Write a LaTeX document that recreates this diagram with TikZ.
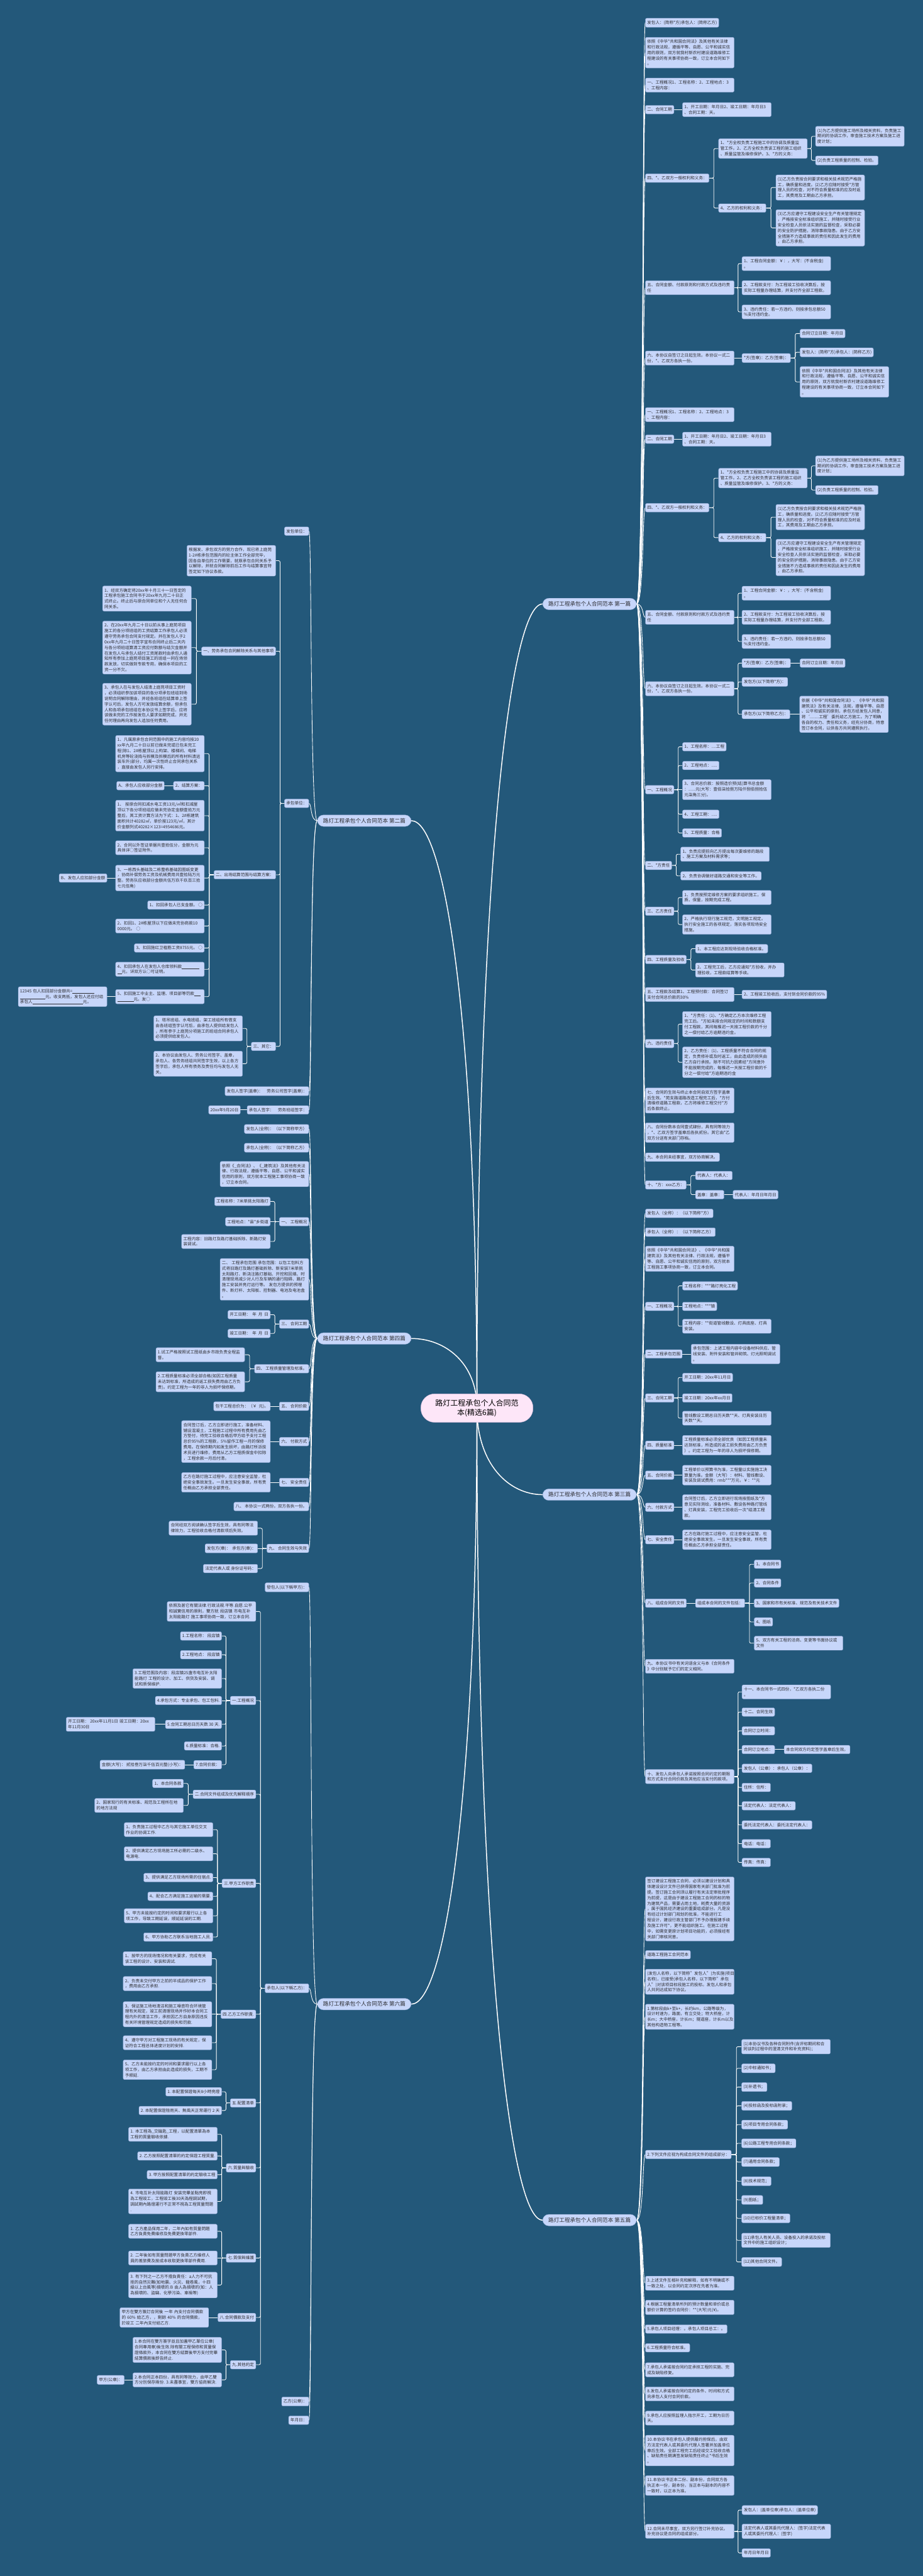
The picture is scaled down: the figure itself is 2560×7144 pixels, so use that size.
\documentclass[tikz,border=0pt]{standalone}
\usepackage{fontspec}
\setmainfont{Noto Sans CJK SC}
\usetikzlibrary{calc}
\definecolor{bgc}{RGB}{35,88,122}
\definecolor{boxfill}{RGB}{199,214,250}
\definecolor{boxline}{RGB}{150,172,215}
\definecolor{txt}{RGB}{45,45,50}
\definecolor{rootfill}{RGB}{253,230,248}
\definecolor{rootline}{RGB}{225,195,225}
\pgfdeclarelayer{back}\pgfdeclarelayer{edges}\pgfsetlayers{back,edges,main}
\newcommand\blnk[1]{\rule[-1.5pt]{#1pt}{0.6pt}}
\tikzset{
 box/.style={draw=boxline,line width=0.7pt,fill=boxfill,rounded corners=4pt,inner xsep=5pt,inner ysep=6.5pt,font=\fontsize{11.5pt}{15.4pt}\selectfont,text=txt,align=left},
 wbox/.style={box,text width=236pt},
 tree/.style={draw=white,line width=1.5pt},
 trunk/.style={draw=white,line width=2.6pt},
 branch/.style={fill=boxfill,draw=boxline,line width=0.7pt,rounded corners=17pt,inner xsep=16pt,inner ysep=9pt,font=\fontsize{15pt}{18pt}\selectfont,text=txt},
 root/.style={fill=rootfill,draw=rootline,line width=0.8pt,rounded corners=38pt,inner xsep=40pt,inner ysep=15pt,font=\fontsize{21pt}{27pt}\selectfont,align=center,text=black}
}
\newcommand\NdR[4]{\node[box,anchor=west] (#1) at (#2,#3) {#4};}
\newcommand\WdR[4]{\node[wbox,anchor=west] (#1) at (#2,#3) {#4};}
\newcommand\NdL[4]{\node[box,anchor=east] (#1) at (#2,#3) {#4};}
\newcommand\WdL[4]{\node[wbox,anchor=east] (#1) at (#2,#3) {#4};}
\newcommand\CvR[2]{\draw[tree] (#1.east) .. controls +(20,0) and +(-8,0) .. (#2.west);}
\newcommand\CvL[2]{\draw[tree] (#1.west) .. controls +(-20,0) and +(8,0) .. (#2.east);}
\newcommand\ElR[2]{\draw[tree,rounded corners=4pt] (#1.east) -- ($(#1.east)!0.5!(#1.east -| #2.west)$) |- (#2.west);}
\newcommand\ElL[2]{\draw[tree,rounded corners=4pt] (#1.west) -- ($(#1.west)!0.5!(#1.west -| #2.east)$) |- (#2.east);}
\newcommand\StR[2]{\draw[tree] (#1.east) -- (#2.west);}
\newcommand\StL[2]{\draw[tree] (#1.west) -- (#2.east);}
\begin{document}
\begin{tikzpicture}[x=1pt,y=-1pt]
\useasboundingbox (0,0) rectangle (2560,7144);
\begin{pgfonlayer}{back}\fill[bgc] (0,0) rectangle (2560,7144);\end{pgfonlayer}

\node[root] (C) at (1323,3905) {路灯工程承包个人合同范\\本(精选6篇)};
\node[branch,anchor=east] (B1) at (1766,1675) {路灯工程承包个人合同范本 第一篇};
\node[branch,anchor=east] (B3) at (1766,4145) {路灯工程承包个人合同范本 第三篇};
\node[branch,anchor=east] (B5) at (1766,6157) {路灯工程承包个人合同范本 第五篇};
\node[branch,anchor=west] (B2) at (880,2276) {路灯工程承包个人合同范本 第二篇};
\node[branch,anchor=west] (B4) at (880,3712) {路灯工程承包个人合同范本 第四篇};
\node[branch,anchor=west] (B6) at (880,5558) {路灯工程承包个人合同范本 第六篇};

% ---------- Branch 1 ----------
\NdR{r1}{1790}{63}{发包人：(简称*方)承包人：(简称乙方)}
\WdR{r2}{1790}{146}{依照《中华*共和国合同法》及其他有关法律\\和行政法规，遵循平等、自愿、公平和诚实信\\用的原则，双方就我村新农村建设道路维修工\\程建设的有关事项协商一致，订立本合同如下\\。}
\WdR{r3}{1790}{236}{一、工程概况1、工程名称：2、工程地点：3\\、工程内容：}
\NdR{r4}{1790}{304}{二、合同工期}
\WdR{r4a}{1893}{304}{1、开工日期：年月日2、竣工日期：年月日3\\、合同工期：天。}
\NdR{r5}{1790}{494}{四、*、乙双方一般权利和义务：}
\WdR{r5a}{1993}{412}{1、*方全权负责工程施工中的协调及质量监\\管工作。2、乙方全权负责该工程的施工组织\\、质量监管及维修保护。3、*方的义务：}
\WdR{r5a1}{2262}{378}{(1)为乙方提供施工场所及相关资料，负责施工\\期间的协调工作，审查施工技术方案及施工进\\度计划；}
\NdR{r5a2}{2262}{445}{(2)负责工程质量的控制、检验。}
\NdR{r5b}{1993}{577}{4、乙方的权利和义务：}
\WdR{r5b1}{2152}{520}{(1)乙方负责按合同要求和相关技术规范严格施\\工，确质量和进度。(2)乙方应随时接受*方管\\理人员的检查，对不符合质量标准的应及时返\\工，其费用及工期由乙方承担。}
\WdR{r5b2}{2152}{632}{(3)乙方应遵守工程建设安全生产有关管理规定\\，严格按安全标准组织施工，并随时接受行业\\安全检查人员依法实施的监督检查，采取必要\\的安全防护措施，消除事故隐患。由于乙方安\\全措施不力造成事故的责任和因此发生的费用\\，由乙方承担。}
\WdR{r6}{1790}{798}{五、合同金额、付款原则和付款方式及违约责\\任}
\WdR{r6a}{2058}{731}{1、工程合同金额：￥：，大写：(不含税金)\\。}
\WdR{r6b}{2058}{798}{2、工程款支付：为工程竣工验收决算后，按\\实际工程量办理结算，并支付齐全部工程款。}
\WdR{r6c}{2058}{865}{3、违约责任：若一方违约，则按承包总额50\\\%支付违约金。}
\WdR{r7}{1790}{993}{六、本协议自签订之日起生效。本协议一式二\\份，*、乙双方各执一份。}
\NdR{r7a}{2058}{993}{*方(签章)：乙方(签章)：}
\NdR{r7a1}{2219}{925}{合同订立日期：年月日}
\NdR{r7a2}{2219}{977}{发包人：(简称*方)承包人：(简称乙方)}
\WdR{r7a3}{2219}{1059}{依照《中华*共和国合同法》及其他有关法律\\和行政法规，遵循平等、自愿、公平和诚实信\\用的原则，双方就我村新农村建设道路维修工\\程建设的有关事项协商一致，订立本合同如下\\。}
\WdR{r8}{1790}{1150}{一、工程概况1、工程名称：2、工程地点：3\\、工程内容：}
\NdR{r9}{1790}{1218}{二、合同工期}
\WdR{r9a}{1893}{1218}{1、开工日期：年月日2、竣工日期：年月日3\\、合同工期：天。}
\NdR{r10}{1790}{1408}{四、*、乙双方一般权利和义务：}
\WdR{r10a}{1993}{1326}{1、*方全权负责工程施工中的协调及质量监\\管工作。2、乙方全权负责该工程的施工组织\\、质量监管及维修保护。3、*方的义务：}
\WdR{r10a1}{2262}{1292}{(1)为乙方提供施工场所及相关资料，负责施工\\期间的协调工作，审查施工技术方案及施工进\\度计划；}
\NdR{r10a2}{2262}{1359}{(2)负责工程质量的控制、检验。}
\NdR{r10b}{1993}{1491}{4、乙方的权利和义务：}
\WdR{r10b1}{2152}{1434}{(1)乙方负责按合同要求和相关技术规范严格施\\工，确质量和进度。(2)乙方应随时接受*方管\\理人员的检查，对不符合质量标准的应及时返\\工，其费用及工期由乙方承担。}
\WdR{r10b2}{2152}{1546}{(3)乙方应遵守工程建设安全生产有关管理规定\\，严格按安全标准组织施工，并随时接受行业\\安全检查人员依法实施的监督检查，采取必要\\的安全防护措施，消除事故隐患。由于乙方安\\全措施不力造成事故的责任和因此发生的费用\\，由乙方承担。}
\WdR{r11}{1790}{1712}{五、合同金额、付款原则和付款方式及违约责\\任}
\WdR{r11a}{2058}{1645}{1、工程合同金额：￥：，大写：(不含税金)\\。}
\WdR{r11b}{2058}{1712}{2、工程款支付：为工程竣工验收决算后，按\\实际工程量办理结算，并支付齐全部工程款。}
\WdR{r11c}{2058}{1779}{3、违约责任：若一方违约，则按承包总额50\\\%支付违约金。}
\WdR{r12}{1790}{1910}{六、本协议自签订之日起生效。本协议一式二\\份，*、乙双方各执一份。}
\NdR{r12a}{2058}{1839}{*方(签章)：乙方(签章)：}
\NdR{r12a1}{2219}{1839}{合同订立日期：年月日}
\NdR{r12b}{2058}{1891}{发包方(以下简称*方)：}
\NdR{r12c}{2058}{1981}{承包方(以下简称乙方)：}
\WdR{r12c1}{2218}{1981}{依据《中华*共和国合同法》、《中华*共和国\\建筑法》及有关法律、法规，遵循平等、自愿\\、公平和诚实的原则，承包方经发包人同意，\\将‘........工程’委托给乙方施工。为了明确\\各自的权力、责任和义务，经充分协商，特意\\签订本合同，以供各方共同遵照执行。}
\NdR{r13}{1790}{2190}{一、工程概况}
\NdR{r13a}{1893}{2071}{1、工程名称：....工程}
\NdR{r13b}{1893}{2123}{2、工程地点：.....}
\WdR{r13c}{1893}{2190}{3、合同总价款：按照造价预(结)算书总金额\\：......元(大写：壹佰柒拾捌万陆仟捌佰捌拾伍\\元柒角三分)。}
\NdR{r13d}{1893}{2258}{4、工程工期：.....}
\NdR{r13e}{1893}{2310}{5、工程质量：合格}
\NdR{r14}{1790}{2400}{二、*方责任}
\WdR{r14a}{1888}{2369}{1、负责应提前向乙方提出每次要维修的路段\\、施工方案及材料需求等；}
\NdR{r14b}{1888}{2429}{2、负责协调做好道路交通和安全等工作。}
\NdR{r15}{1790}{2527}{三、乙方责任}
\WdR{r15a}{1893}{2489}{1、负责按预定维修方案的要求组织施工，保\\质、保量，按期完成工程。}
\WdR{r15b}{1893}{2564}{2、严格执行现行施工规范，文明施工规定。\\执行安全施工的各项规定，落实各项现场安全\\措施。}
\NdR{r16}{1790}{2661}{四、工程质量及验收}
\NdR{r16a}{1929}{2631}{1、本工程应达到现场验收合格标准。}
\WdR{r16b}{1929}{2690}{2、工程完工后，乙方应通知*方验收，并办\\理验收，工程款结算等手续。}
\WdR{r17}{1790}{2758}{五、工程款及结算1、工程预付款：合同签订\\支付合同总价款的30\%}
\NdR{r17a}{2058}{2758}{2、工程竣工验收后，支付到合同价款的95\%}
\NdR{r18}{1790}{2894}{六、违约责任}
\WdR{r18a}{1893}{2840}{1、*方责任：(1)、*方确定乙方本次维修工程\\完工后。*方如未按合同规定的时间和数额支\\付工程款，其间每推迟一天按工程价款的千分\\之一偿付给乙方逾期违约金。}
\WdR{r18b}{1893}{2946}{2、乙方责任：(1)、工程质量不符合合同的规\\定，负责修补或及时返工，由此造成的损失由\\乙方自行承担。除不可抗力因素经*方同意外\\不能按期完成的，每推迟一天按工程价款的千\\分之一偿付给*方逾期违约金}
\WdR{r19}{1790}{3052}{七、合同的生效与终止本合同自双方签字盖章\\后生效。*苑支路道路改造工程完工后，*方付\\清维修道路工程款，乙方将维修工程交付*方\\后条款终止。}
\WdR{r20}{1790}{3141}{八、合同份数本合同壹式肆份，具有同等效力\\，*、乙双方签字盖章后各执贰份。其它由*乙\\双方分送有关部门存档。}
\NdR{r21}{1790}{3209}{九、本合同未经事宜，双方协商解决。}
\NdR{r22}{1790}{3286}{十、*方：xxx乙方：}
\NdR{r22a}{1929}{3260}{代表人：代表人：}
\NdR{r22b}{1929}{3313}{盖章：盖章：}
\NdR{r22b1}{2033}{3313}{代表人：年月日年月日}

% ---------- Branch 3 ----------
\NdR{s1}{1790}{3365}{发包人（全称）：（以下简称*方）}
\NdR{s2}{1790}{3417}{承包人（全称）：（以下简称乙方）}
\WdR{s3}{1790}{3491}{依照《中华*共和国合同法》、《中华*共和国\\建筑法》及其他有关法律、行政法规，遵循平\\等、自愿、公平和诚实信用的原则，双方就本\\工程施工事项协商一致，订立本合同。}
\NdR{s4}{1790}{3623}{一、工程概况}
\NdR{s4a}{1893}{3566}{工程名称：***路灯亮化工程}
\NdR{s4b}{1893}{3623}{工程地点：***镇}
\WdR{s4c}{1893}{3678}{工程内容：**街道管线敷设、灯具底座、灯具\\安装。}
\NdR{s5}{1790}{3755}{二、工程承包范围}
\WdR{s5a}{1917}{3755}{承包范围：上述工程内容中设备材料供应、管\\线安装、附件安装和管井砌筑、灯光照明调试\\。}
\NdR{s6}{1790}{3877}{三、合同工期}
\NdR{s6a}{1893}{3820}{开工日期：20xx年11月日}
\NdR{s6b}{1893}{3877}{竣工日期：20xx年xx月日}
\WdR{s6c}{1893}{3933}{管线敷设工期总日历天数**天、灯具安装日历\\天数**天。}
\NdR{s7}{1790}{4008}{四、质量标准}
\WdR{s7a}{1893}{4008}{工程质量标准必须全部优良（如因工程质量未\\达到标准，所造成的返工损失费用由乙方负责\\）。约定工程为一年的非人为损坏保修期。}
\NdR{s8}{1790}{4091}{五、合同价款}
\WdR{s8a}{1893}{4091}{工程单价以预算书为准，工程量以实施施工决\\算量为准。金额（大写）：材料、管线敷设、\\安装及调试费用：rmb***万元，￥：**元}
\NdR{s9}{1790}{4180}{六、付款方式}
\WdR{s9a}{1893}{4180}{合同签订后，乙方立即进行现场按图纸及*方\\意见实际测绘，准备材料、敷设各种路灯管线\\、灯具安装，工程完工验收后一次*结清工程\\款。}
\NdR{s10}{1790}{4270}{七、安全责任}
\WdR{s10a}{1893}{4270}{乙方在路灯施工过程中，应注意安全监管，杜\\绝安全事故发生。一旦发生安全事故，所有责\\任概由乙方承担全部责任。}
\NdR{s11}{1790}{4446}{八、组成合同的文件}
\NdR{s11a}{1929}{4446}{组成本合同的文件包括：}
\NdR{s11a1}{2092}{4338}{1、本合同书}
\NdR{s11a2}{2092}{4390}{2、合同条件}
\NdR{s11a3}{2092}{4446}{3、国家和市有关标准、规范及有关技术文件}
\NdR{s11a4}{2092}{4498}{4、图纸}
\WdR{s11a5}{2092}{4557}{5、双方有关工程的洽商、变更等书面协议或\\文件}
\WdR{s12}{1790}{4621}{九、本协议书中有关词语含义与本《合同条件\\》中分别赋予它们的定义相同。}
\WdR{s13}{1790}{4927}{十、发包人向承包人承诺按照合同约定的期限\\和方式支付合同价款及其他应当支付的款项。}
\WdR{s13a}{2058}{4692}{十一、本合同书一式四份，*乙双方各执二份\\。}
\NdR{s13b}{2058}{4748}{十二、合同生效}
\NdR{s13c}{2058}{4800}{合同订立时间：}
\NdR{s13d}{2058}{4852}{合同订立地点：}
\NdR{s13d1}{2175}{4852}{本合同双方约定签字盖章后生效。}
\NdR{s13e}{2058}{4904}{发包人（公章）：承包人（公章）：}
\NdR{s13f}{2058}{4957}{住所：住所：}
\NdR{s13g}{2058}{5008}{法定代表人：法定代表人：}
\NdR{s13h}{2058}{5061}{委托法定代表人：委托法定代表人：}
\NdR{s13i}{2058}{5113}{电话：电话：}
\NdR{s13j}{2058}{5165}{传真：传真：}

% ---------- Branch 5 ----------
\WdR{t1}{1790}{5294}{签订建设工程施工合同，必须以建设计划和具\\体建设设计文件已获得国家有关部门批准为前\\提。签订施工合同须以履行有关法定审批程序\\为前提，这是由于建设工程施工合同的标的物\\为建筑产品，需要占用土地，耗费大量的资源\\，属于国民经济建设的重要组成部分。凡是没\\有经过计划部门规划的批准，不能进行工\\程设计，建设行政主管部门不予办理报建手续\\及施工许可*，更不能组织施工。在施工过程\\中，如需变更原计划项目功能的，必须报经有\\关部门审核同意。}
\NdR{t2}{1790}{5421}{道路工程施工合同范本}
\WdR{t3}{1790}{5496}{(发包人名称，以下简称"发包人")为实施(项目\\名称)，已接受(承包人名称，以下简称"承包\\人")对该项目标段施工的投标。发包人和承包\\人共同达成如下协议。}
\WdR{t4}{1790}{5593}{1.第标段由k+至k+，长约km，公路等级为，\\设计时速为，路面，有立交处；特大桥座，计\\长m；大中桥座，计长m；隧道座，计长m以及\\其他构造物工程等。}
\NdR{t5}{1790}{5975}{2.下列文件应视为构成合同文件的组成部分：}
\WdR{t5a}{2057}{5676}{(1)本协议书及各种合同附件(含评标期间和合\\同谈判过程中的澄清文件和补充资料)；}
\NdR{t5b}{2057}{5736}{(2)中标通知书；}
\NdR{t5c}{2057}{5788}{(3)补遗书；}
\NdR{t5d}{2057}{5840}{(4)投标函及投标函附录；}
\NdR{t5e}{2057}{5892}{(5)项目专用合同条款；}
\NdR{t5f}{2057}{5944}{(6)公路工程专用合同条款；}
\NdR{t5g}{2057}{5996}{(7)通用合同条款；}
\NdR{t5h}{2057}{6049}{(8)技术规范；}
\NdR{t5i}{2057}{6101}{(9)图纸；}
\NdR{t5j}{2057}{6152}{(10)已标价工程量清单；}
\WdR{t5k}{2057}{6213}{(11)承包人有关人员、设备投入的承诺及投标\\文件中的施工组织设计；}
\NdR{t5l}{2057}{6273}{(12)其他合同文件。}
\WdR{t6}{1790}{6332}{3.上述文件互相补充和解释，如有不明确或不\\一致之处，以合同约定次序在先者为准。}
\WdR{t7}{1790}{6399}{4.根据工程量清单所列的预计数量和单价或总\\额价计算的签约合同价：**(大写)元(¥)。}
\NdR{t8}{1790}{6459}{5.承包人项目经理：。承包人项目总工：。}
\NdR{t9}{1790}{6511}{6.工程质量符合标准。}
\WdR{t10}{1790}{6572}{7.承包人承诺按合同约定承担工程的实施、完\\成及缺陷修复。}
\WdR{t11}{1790}{6639}{8.发包人承诺按合同约定的条件、时间和方式\\向承包人支付合同价款。}
\WdR{t12}{1790}{6706}{9.承包人应按照监理人指示开工，工期为日历\\天。}
\WdR{t13}{1790}{6796}{10.本协议书在承包人提供履约担保后，由双\\方法定代表人或其委托代理人签署并加盖单位\\章后生效。全部工程完工后经竣交工验收合格\\、缺陷责任期满签发缺陷责任终止*书后生效\\。}
\WdR{t14}{1790}{6893}{11.本协议书正本二份、副本份，合同双方各\\执正本一份，副本份，当正本与副本的内容不\\一致时，以正本为准。}
\WdR{t15}{1790}{7020}{12.合同未尽事宜，双方另行签订补充协议。\\补充协议是合同的组成部分。}
\NdR{t15a}{2058}{6961}{发包人：(盖单位章)承包人：(盖单位章)}
\WdR{t15b}{2058}{7020}{法定代表人或其委托代理人：(签字)法定代表\\人或其委托代理人：(签字)}
\NdR{t15c}{2058}{7080}{年月日年月日}

% ---------- Branch 2 ----------
\NdL{l1}{857}{1473}{发包单位：}
\NdL{l2}{857}{2228}{承包单位：}
\WdL{l2a}{765}{1555}{根据发、承包双方的努力合作，现已将上庭苑\\1-2\#栋承包范围内的砼主体工作全部完毕，\\因各自单位的工作需要，就原承包合同关系予\\以解除，并就合同解除前后工作与结算事宜特\\签定如下协议条款。}
\NdL{l2b}{765}{1806}{一、劳务承包合同解除关系与其他事项}
\WdL{l2b1}{531}{1660}{1、经双方确定将20xx年十月三十一日签定的\\工程承包施工合同书于20xx年九月二十日正\\式终止。终止后与原合同单位和个人无任何合\\同关系。}
\WdL{l2b2}{531}{1796}{2、在20xx年九月二十日以前从事上庭苑项目\\施工的各分项班组的工资结算工作承包人必须\\遵守劳务承包合同支付规定。并在发包人于2\\0xx年九月二十日签字宣布合同终止后二天内\\与各分项班组算清工资应付数额与结欠金额并\\在发包人与承包人结付工资尾款时由承包人通\\知所有参加上庭苑项目施工的班组一同在场领\\款发放，切实做到专款专用，确保本项目的工\\资一分不欠。}
\WdL{l2b3}{531}{1953}{3、承包人在与发包人结清上庭苑项目工资时\\，必须组织参加该项目的各分项承包班组到场\\说明合同解除理由，并经各班组在结算单上签\\字认可后，发包人方可发放结算余额，但承包\\人和各项承包班组在本协议书上签字后，应将\\该做未完的工作按发包人要求如期完成，并无\\任何理由再向发包人追加任何费用。}
\NdL{l2c}{765}{2426}{二、出场结算范围与结算方案：}
\WdL{c1}{567}{2090}{1、凡属原承包合同范围中的施工内容均按20\\xx年九月二十日以前已做未完或已包未完工\\程(除1、2\#栋屋顶以上构架、楼梯间、电梯\\机房等砼浇捣与拆模及拆模后的所有材料清运\\装车外)部分，均属一次性终止合同承包关系\\，直接由发包人另行安排。}
\NdL{c2}{567}{2179}{2、结算方案：}
\NdL{c2a}{456}{2179}{A、承包人应收部分金额}
\WdL{c3}{567}{2262}{1、 按原合同扣减水电工资13元/㎡和扣减屋\\顶以下各分项班组应做未完协定金额壹拾万元\\整后，其工资计算方法为下式：1、2\#栋建筑\\面积共计40282㎡，单价按123元/㎡，其计\\价金额列式40282×123=4954686元。}
\WdL{c4}{567}{2351}{2、合同以外签证单据共壹拾伍分，金额为元\\具体详○签证附件。}
\WdL{c5}{567}{2435}{3、一栋西头基础及二栋整栋基础因图纸变更\\，协商补偿劳务工资及机械费用共壹拾陆万元\\整。劳务队应收部分金额共伍万玖千玖百三拾\\七元伍角)}
\NdL{c5a}{297}{2435}{B、发包人应扣部分金额}
\NdL{c6}{567}{2510}{1、扣回承包人已支金额。 ○}
\WdL{c7}{567}{2568}{2、扣回1、2\#栋屋顶以下应做未完协商款10\\0000元。 ○}
\NdL{c8}{567}{2629}{3、扣回施红卫植筋工资8755元。 ○}
\WdL{c9}{567}{2688}{4、扣回承包人在发包人仓库领料款\blnk{48}\\\blnk{12}元，详双方认○可证明。}
\WdL{c10}{567}{2764}{5、扣回施工中业主、监理、项目部等罚款\blnk{18}\\\blnk{45}元。发○}
\WdL{c10a}{297}{2764}{12345 包人扣回部分金额共=\blnk{60}\\\blnk{70}元。收支两抵，发包人还应付给\\承包人\blnk{140}元。}
\NdL{l2d}{765}{2902}{三、其它：}
\WdL{l2d1}{673}{2852}{1、塔吊班组、水电班组、架工班组所有借支\\由各班组签字认可后，由承包人提供给发包人\\，所有参于上庭苑分项施工的班组合同承包人\\必须提供给发包人。}
\WdL{l2d2}{673}{2950}{2、本协议由发包人、劳务公司签字、盖章，\\承包人、各劳务班组共同签字生效，以上各方\\签字后，承包人所有债务及责任均与发包人无\\关。}
\NdL{l3}{857}{3026}{发包人签字(盖章)：\quad 劳务公司签字(盖章)：}
\NdL{l4}{857}{3078}{承包人签字：\quad 劳务班组签字：}
\NdL{l4a}{667}{3078}{20xx年9月20日}

% ---------- Branch 4 ----------
\NdL{m1}{857}{3131}{发包人(全称)：（以下简称甲方）}
\NdL{m2}{857}{3183}{承包人(全称)：（以下简称乙方）}
\WdL{m3}{857}{3256}{依照《\_合同法》、《\_建筑法》及其他有关法\\律、行政法规，遵循平等、自愿、公平和诚实\\信用的原则，双方就本工程施工事项协商一致\\，订立本合同。}
\NdL{m4}{857}{3388}{一、\ 工程概况}
\NdL{m4a}{750}{3332}{工程名称：7米单挑太阳路灯}
\NdL{m4b}{750}{3388}{工程地点：*县*乡街道}
\WdL{m4c}{750}{3443}{工程内容：旧路灯及路灯基础拆除、新路灯安\\装调试。}
\WdL{m5}{857}{3548}{二、\ 工程承包范围 承包范围：以包工包料方\\式将旧路灯及路灯基础拆除、新安装7米单挑\\太阳路灯、新浇注路灯基础、开挖和回填、时\\清理现场减少对人行及车辆的通行阻碍、路灯\\施工安装并亮灯运行等。 发包方提供的预埋\\件、新灯杆、太阳板、控制器、电池及电池盒\\。}
\NdL{m6}{857}{3672}{三、\ 合同工期}
\NdL{m6a}{750}{3646}{开工日期：\ \ 年\ \ 月\ \ 日}
\NdL{m6b}{750}{3698}{竣工日期：\ \ 年\ \ 月\ \ 日}
\NdL{m7}{857}{3796}{四、\ 工程质量管理及标准。}
\WdL{m7a}{679}{3757}{1.试工严格按照试工图纸由乡市政负责全程监\\督。}
\WdL{m7b}{679}{3832}{2.工程质量标准必须全部合格(如因工程质量\\未达到标准，所造成的返工损失费用由乙方负\\责)。约定工程为一年的非人为损坏保修期。}
\NdL{m8}{857}{3900}{五、\ 合同价款}
\NdL{m8a}{750}{3900}{包干工程总价为：（￥\ \ 元)。}
\NdL{m9}{857}{3998}{六、\ 付款方式}
\WdL{m9a}{750}{3998}{合同签订后，乙方立即进行施工，准备材料、\\铺设混凝土，工程施工过程中所有费用先由乙\\方垫付，待完工验收合格后甲方给予支付工程\\总价95\%的工程款，5\%留作工程一月的保修\\费用。在保修期内如发生损坏，由路灯所派技\\术员进行维修，费用从乙方工程质保金中扣除\\，工程余款一月后付清。}
\NdL{m10}{857}{4111}{七、\ 安全责任}
\WdL{m10a}{750}{4111}{乙方在路灯施工过程中，应注意安全监管，杜\\绝安全事故发生。一旦发生安全事故，所有责\\任概由乙方承担全部责任。}
\NdL{m11}{857}{4178}{八、\ 本协议一式两份。双方各执一份。}
\NdL{m12}{857}{4294}{九、\ 合同生效与失效}
\WdL{m12a}{715}{4238}{合同经双方阅读确认签字后生效，具有同等法\\律效力，工程验收合格付清款项后失效。}
\NdL{m12b}{715}{4294}{发包方(章)：\ \ 承包方(章)：}
\NdL{m12c}{715}{4350}{法定代表人或\ 身份证号码：}

% ---------- Branch 6 ----------
\NdL{n1}{857}{4402}{發包人(以下稱甲方)：}
\NdL{n2}{857}{5514}{承包人(以下稱乙方)：}
\WdL{na}{710}{4469}{依照及甚它有關法律.行政法規.平等.自愿.公平\\和誠實信用的原則，雙方就\ 段店镇\ 市电互补\\太阳能路灯\ 施工事项协商一致，订立本合同.}
\NdL{nb}{710}{4716}{一.工程概况}
\NdL{nb1}{615}{4537}{1.工程名称：\ 段店镇}
\NdL{nb2}{615}{4589}{2.工程地点：\ 段店镇}
\WdL{nb3}{615}{4655}{3.工程范围及内容：段店镇25盏市电互补太阳\\能路灯\ 工程的设计、加工、供货及安装、调\\试和质保维护.}
\NdL{nb4}{615}{4716}{4.承包方式：专业承包、包工包料.}
\NdL{nb5}{615}{4782}{5.合同工期总日历天数\ 30\ 天.}
\WdL{nb5a}{430}{4782}{开工日期：\ 20xx年11月1日\ 竣工日期：20xx\\年11月30日}
\NdL{nb6}{615}{4842}{6.质量标准：合格.}
\NdL{nb7}{615}{4894}{7.合同价款：}
\NdL{nb7a}{513}{4894}{金额(大写)：\ 贰拾叁万柒千伍百元整(小写)：}
\NdL{nc}{710}{4976}{二.合同文件组成及优先解释顺序}
\NdL{nc1}{509}{4946}{1、本合同条款}
\WdL{nc2}{509}{5007}{2、国家现行的有关标准、规范及工程所在地\\的地方法规}
\NdL{nd}{710}{5223}{三.甲方工作职责}
\WdL{nd1}{591}{5074}{1、负责施工过程中乙方与其它施工单位交叉\\作业的协调工作.}
\WdL{nd2}{591}{5141}{2、提供满足乙方现场施工所必需的二级水、\\电源电.}
\NdL{nd3}{591}{5207}{3、提供满足乙方现场所需的住宿点.}
\NdL{nd4}{591}{5259}{4、配合乙方满足施工运输的需要.}
\WdL{nd5}{591}{5313}{5、甲方未能按约定的时间和要求履行以上各\\项工作，导致工期延误，顺延延误的工期.}
\NdL{nd6}{591}{5372}{6、甲方协助乙方联系当地施工人员.}
\NdL{ne}{710}{5586}{四.乙方工作职責.}
\WdL{ne1}{588}{5432}{1、按甲方的现场情况和有关要求，完成有关\\该工程的设计、安装和调试.}
\WdL{ne2}{588}{5501}{2、负责未交付甲方之前的半成品的保护工作\\，费用由乙方承担.}
\WdL{ne3}{588}{5586}{3、保证施工场地清洁和施工噪音符合环境管\\理有关规定，竣工前清理现场并作好本合同工\\程内外的清洁工作，承担因乙方自身原因违反\\有关环境管理规定造成的损失和罚款.}
\WdL{ne4}{588}{5665}{4、遵守甲方对工程施工现场的有关规定，保\\证符合工程总体进度计划的安排.}
\WdL{ne5}{588}{5740}{5、乙方未能按约定的时间和要求履行以上各\\项工作，由乙方承担由此造成的损失，工期不\\予顺延.}
\NdL{nf}{710}{5832}{五.配置清单}
\NdL{nf1}{615}{5801}{1.\ 本配置保證每天8小時亮燈}
\NdL{nf2}{615}{5853}{2.\ 本配置保證陰雨天、無風天正常運行\ 2\ 天}
\NdL{ng}{710}{6012}{六.質量與驗收}
\WdL{ng1}{603}{5919}{1.\ 本工程為\_交鑰匙\_工程，以配置清單為本\\工程的質量驗收依據.}
\NdL{ng2}{603}{5979}{2.\ 乙方按照配置清單的約定保證工程質量.}
\NdL{ng3}{603}{6031}{3.\ 甲方按照配置清單的約定驗收工程}
\WdL{ng4}{603}{6105}{4.\ 市电互补太阳能路灯\ 安装完畢並點亮即視\\為工程竣工，工程竣工後30天為程調試期，\\調試期內路燈運行不正常不視為工程質量問題\\.}
\NdL{nh}{710}{6262}{七.質保與維護}
\WdL{nh1}{603}{6188}{1.\ 乙方產品保用二年，二年內如有質量問題\\乙方負責免費維修及免費更換零部件.}
\WdL{nh2}{603}{6262}{2.\ 二年後如有質量問題甲方負責乙方維修人\\員的差旅費及按成本收取更換零部件費用.}
\WdL{nh3}{603}{6337}{3.\ 有下列之一乙方不擔負責任：a人力不可抗\\拒的自然災難(如地震、火災、龍卷風，十四\\級以上台風等)損壞的.B\ 由人為損壞的(如：人\\為損壞的、盜竊、化學污染、車禍等)}
\NdL{ni}{710}{6427}{八.合同價款及支付}
\WdL{ni1}{579}{6427}{甲方在雙方簽訂合同後\ 一年\ 內支付合同價款\\的\ 60\%\ 給乙方，，剩餘\ 40\%\ 的合同價款，\\於竣工\ 二年內支付給乙方.}
\NdL{nj}{710}{6558}{九.其他約定}
\WdL{nj1}{615}{6517}{1.本合同在雙方簽字並且加蓋甲乙單位公章(\\合同專用章)後生效.除有關工程保修和質量保\\證條款外，本合同在雙方結算後甲方支付完畢\\結算價款後即告終止.}
\WdL{nj2}{615}{6600}{2.本合同正本四份，具有同等效力，由甲乙雙\\方分別保存兩份.\ 3.未盡事宜，雙方協商解決.}
\NdL{nj2a}{345}{6600}{甲方(公章)：}
\NdL{n3}{857}{6660}{乙方(公章)：}
\NdL{n4}{857}{6712}{年月日：}

% ---------- Connectors ----------
\begin{pgfonlayer}{edges}
\draw[trunk] (C.center) .. controls (1323,2455) and (1412,1675) .. (B1.west);
\draw[trunk] (C.center) .. controls (1323,4061) and (1412,4145) .. (B3.west);
\draw[trunk] (C.center) .. controls (1323,5369) and (1412,6157) .. (B5.west);
\draw[trunk] (C.center) .. controls (1323,2846) and (1235,2276) .. (B2.east);
\draw[trunk] (C.center) .. controls (1323,3780) and (1235,3712) .. (B4.east);
\draw[trunk] (C.center) .. controls (1323,4979) and (1235,5558) .. (B6.east);

\foreach \k in {r1,r2,r3,r4,r5,r6,r7,r8,r9,r10,r11,r12,r13,r14,r15,r16,r17,r18,r19,r20,r21,r22}{\CvR{B1}{\k}}
\foreach \k in {s1,s2,s3,s4,s5,s6,s7,s8,s9,s10,s11,s12,s13}{\CvR{B3}{\k}}
\foreach \k in {t1,t2,t3,t4,t5,t6,t7,t8,t9,t10,t11,t12,t13,t14,t15}{\CvR{B5}{\k}}
\foreach \k in {l1,l2,l3,l4}{\CvL{B2}{\k}}
\foreach \k in {m1,m2,m3,m4,m5,m6,m7,m8,m9,m10,m11,m12}{\CvL{B4}{\k}}
\foreach \k in {n1,n2,n3,n4}{\CvL{B6}{\k}}

% branch 1 sub
\StR{r4}{r4a}
\foreach \k in {r5a,r5b}{\ElR{r5}{\k}}
\foreach \k in {r5a1,r5a2}{\ElR{r5a}{\k}}
\foreach \k in {r5b1,r5b2}{\ElR{r5b}{\k}}
\foreach \k in {r6a,r6c}{\ElR{r6}{\k}}
\StR{r6}{r6b}
\StR{r7}{r7a}
\foreach \k in {r7a1,r7a2,r7a3}{\ElR{r7a}{\k}}
\StR{r9}{r9a}
\foreach \k in {r10a,r10b}{\ElR{r10}{\k}}
\foreach \k in {r10a1,r10a2}{\ElR{r10a}{\k}}
\foreach \k in {r10b1,r10b2}{\ElR{r10b}{\k}}
\foreach \k in {r11a,r11c}{\ElR{r11}{\k}}
\StR{r11}{r11b}
\foreach \k in {r12a,r12b,r12c}{\ElR{r12}{\k}}
\StR{r12a}{r12a1}
\StR{r12c}{r12c1}
\foreach \k in {r13a,r13b,r13d,r13e}{\ElR{r13}{\k}}
\StR{r13}{r13c}
\foreach \k in {r14a,r14b}{\ElR{r14}{\k}}
\foreach \k in {r15a,r15b}{\ElR{r15}{\k}}
\foreach \k in {r16a,r16b}{\ElR{r16}{\k}}
\StR{r17}{r17a}
\foreach \k in {r18a,r18b}{\ElR{r18}{\k}}
\foreach \k in {r22a,r22b}{\ElR{r22}{\k}}
\StR{r22b}{r22b1}
% branch 3 sub
\foreach \k in {s4a,s4c}{\ElR{s4}{\k}}
\StR{s4}{s4b}
\StR{s5}{s5a}
\foreach \k in {s6a,s6c}{\ElR{s6}{\k}}
\StR{s6}{s6b}
\StR{s7}{s7a}
\StR{s8}{s8a}
\StR{s9}{s9a}
\StR{s10}{s10a}
\StR{s11}{s11a}
\foreach \k in {s11a1,s11a2,s11a4,s11a5}{\ElR{s11a}{\k}}
\StR{s11a}{s11a3}
\foreach \k in {s13a,s13b,s13c,s13d,s13e,s13f,s13g,s13h,s13i,s13j}{\ElR{s13}{\k}}
\StR{s13d}{s13d1}
% branch 5 sub
\foreach \k in {t5a,t5b,t5c,t5d,t5e,t5f,t5g,t5h,t5i,t5j,t5k,t5l}{\ElR{t5}{\k}}
\foreach \k in {t15a,t15c}{\ElR{t15}{\k}}
\StR{t15}{t15b}
% branch 2 sub
\foreach \k in {l2a,l2b,l2c,l2d}{\ElL{l2}{\k}}
\foreach \k in {l2b1,l2b2,l2b3}{\ElL{l2b}{\k}}
\foreach \k in {c1,c2,c3,c4,c5,c6,c7,c8,c9,c10}{\ElL{l2c}{\k}}
\StL{c2}{c2a}
\StL{c5}{c5a}
\StL{c10}{c10a}
\foreach \k in {l2d1,l2d2}{\ElL{l2d}{\k}}
\StL{l4}{l4a}
% branch 4 sub
\foreach \k in {m4a,m4c}{\ElL{m4}{\k}}
\StL{m4}{m4b}
\foreach \k in {m6a,m6b}{\ElL{m6}{\k}}
\foreach \k in {m7a,m7b}{\ElL{m7}{\k}}
\StL{m8}{m8a}
\StL{m9}{m9a}
\StL{m10}{m10a}
\foreach \k in {m12a,m12c}{\ElL{m12}{\k}}
\StL{m12}{m12b}
% branch 6 sub
\foreach \k in {na,nb,nc,nd,ne,nf,ng,nh,ni,nj}{\ElL{n2}{\k}}
\foreach \k in {nb1,nb2,nb3,nb5,nb6,nb7}{\ElL{nb}{\k}}
\StL{nb}{nb4}
\StL{nb5}{nb5a}
\StL{nb7}{nb7a}
\foreach \k in {nc1,nc2}{\ElL{nc}{\k}}
\foreach \k in {nd1,nd2,nd3,nd4,nd5,nd6}{\ElL{nd}{\k}}
\foreach \k in {ne1,ne2,ne4,ne5}{\ElL{ne}{\k}}
\StL{ne}{ne3}
\foreach \k in {nf1,nf2}{\ElL{nf}{\k}}
\foreach \k in {ng1,ng2,ng3,ng4}{\ElL{ng}{\k}}
\foreach \k in {nh1,nh3}{\ElL{nh}{\k}}
\StL{nh}{nh2}
\StL{ni}{ni1}
\foreach \k in {nj1,nj2}{\ElL{nj}{\k}}
\StL{nj2}{nj2a}
\end{pgfonlayer}
\end{tikzpicture}
\end{document}
